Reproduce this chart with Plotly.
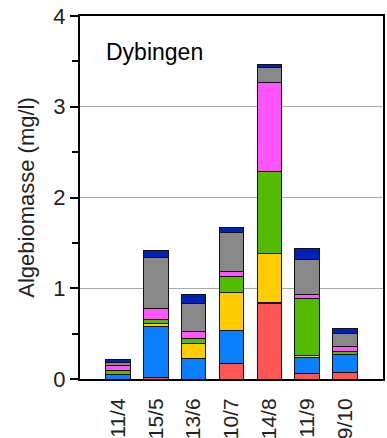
import plotly.graph_objects as go

dates = ["11/4", "15/5", "13/6", "10/7", "14/8", "11/9", "9/10"]

red = [0.0, 0.015, 0.0, 0.167, 0.83, 0.057, 0.075]
blue = [0.05, 0.56, 0.222, 0.366, 0.015, 0.176, 0.19]
yellow = [0.005, 0.035, 0.167, 0.423, 0.535, 0.022, 0.01]
green = [0.035, 0.05, 0.06, 0.17, 0.91, 0.635, 0.03]
magenta = [0.055, 0.12, 0.074, 0.059, 0.98, 0.044, 0.055]
gray = [0.04, 0.56, 0.304, 0.434, 0.16, 0.385, 0.145]
darkblue = [0.03, 0.08, 0.107, 0.051, 0.04, 0.121, 0.05]

series = [
    ("red", red, "#FF5555"),
    ("blue", blue, "#0A80FF"),
    ("yellow", yellow, "#FFCC00"),
    ("green", green, "#55BB00"),
    ("magenta", magenta, "#FF55FF"),
    ("gray", gray, "#888888"),
    ("darkblue", darkblue, "#0022BB"),
]

FONT = "Liberation Sans, Arial, sans-serif"

fig = go.Figure()
for name, vals, col in series:
    fig.add_trace(go.Bar(
        x=dates, y=vals, name=name, width=0.65,
        marker=dict(color=col, line=dict(color="#111111", width=1)),
        showlegend=False,
    ))

fig.update_layout(
    barmode="stack",
    width=387, height=438,
    margin=dict(l=80, r=4, t=16, b=59),
    paper_bgcolor="white", plot_bgcolor="white",
    font=dict(family=FONT, size=22, color="#222222"),
    xaxis=dict(
        type="category", range=[-1, 7],
        showline=True, linecolor="black", linewidth=2, mirror=True,
        ticks="", tickangle=-90, ticklabelstandoff=9,
        tickfont=dict(family=FONT, size=21, color="#222222"),
        showgrid=False, automargin=False,
    ),
    yaxis=dict(
        range=[0, 4], tick0=0, dtick=1,
        showline=True, linecolor="black", linewidth=2, mirror=True,
        ticks="outside", ticklen=8, tickwidth=2, tickcolor="black",
        minor=dict(tick0=0, dtick=0.5, ticks="outside", ticklen=6, tickwidth=2, tickcolor="black", showgrid=False),
        showgrid=True, gridcolor="#a8a8a8", gridwidth=1,
        zeroline=False,
        tickfont=dict(family=FONT, size=22, color="#222222"),
        title=dict(text="Algebiomasse (mg/l)", font=dict(family=FONT, size=22, color="#222222"), standoff=13),
        automargin=False,
    ),
    annotations=[dict(
        text="Dybingen", xref="paper", yref="y", x=0.08, y=3.6,
        xanchor="left", yanchor="middle", showarrow=False,
        font=dict(family=FONT, size=23, color="black"),
    )],
)

fig.write_html("out.html", config={"displayModeBar": False},
               post_script="document.body.style.margin='0';document.body.style.overflow='hidden';")
